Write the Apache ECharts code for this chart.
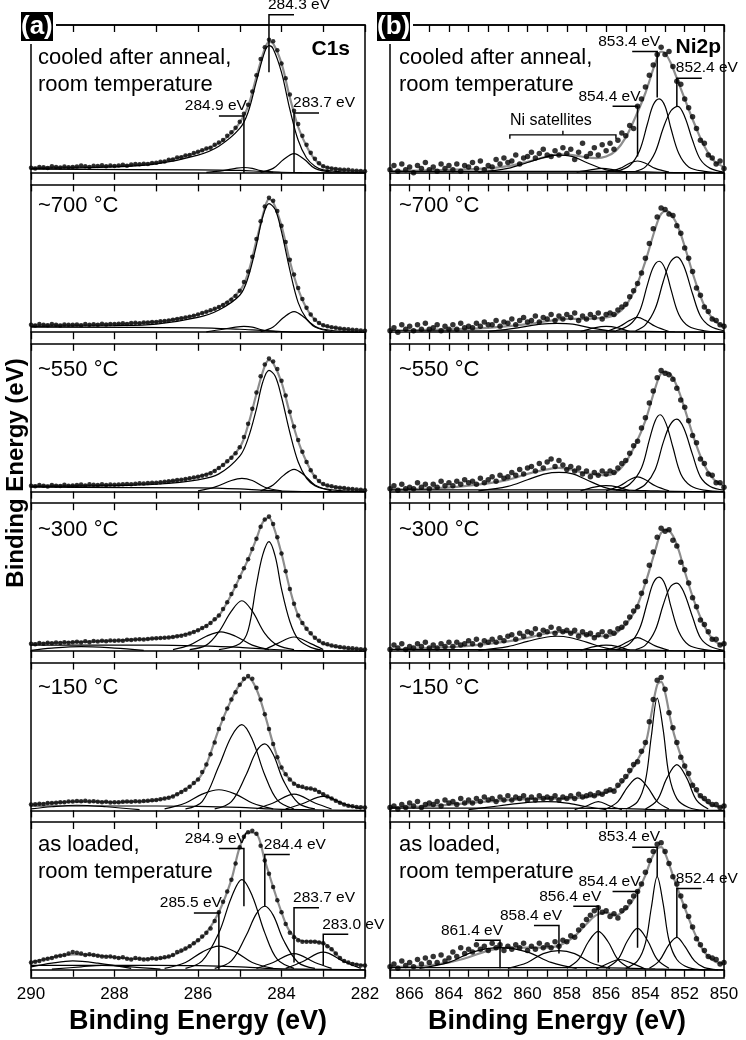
<!DOCTYPE html>
<html><head><meta charset="utf-8">
<script src="https://cdn.jsdelivr.net/npm/echarts@6/dist/echarts.min.js"></script>
<style>html,body{margin:0;padding:0;background:#fff}#c{width:746px;height:1040px}</style>
</head><body><div id="c"></div>
<script>
// ================= DATA =================
const PANEL_LABELS = ['cooled after anneal,\nroom temperature','~700 °C','~550 °C','~300 °C','~150 °C','as loaded,\nroom temperature'];
const C1S_TICKS = [282, 290];          // axis range (eV), reversed
const NI_TICKS = [850, 867];
const C1S_START = 290, C1S_STEP = 0.1; // measured energy grid
const NI_START = 867, NI_STEP = 0.2;

// ---- C1s measured points (290 -> 282 eV) ----
const c1sPts1 = [0.035,0.03,0.04,0.038,0.032,0.045,0.04,0.036,0.042,0.038,0.04,
 0.042,0.05,0.044,0.04,0.048,0.046,0.052,0.044,0.05,0.047,
 0.05,0.055,0.048,0.056,0.06,0.058,0.062,0.06,0.066,0.068,
 0.075,0.076,0.088,0.09,0.104,0.105,0.118,0.12,0.134,0.142,
 0.152,0.165,0.17,0.19,0.205,0.222,0.25,0.275,0.305,0.345,
 0.4,0.46,0.55,0.66,0.77,0.85,0.9,0.89,0.83,0.74,
 0.64,0.53,0.42,0.33,0.25,0.19,0.135,0.095,0.065,0.045,
 0.035,0.03,0.026,0.022,0.02,0.02,0.016,0.014,0.012,0.01];
const c1sPts2 = [0.05,0.045,0.055,0.05,0.048,0.056,0.05,0.046,0.053,0.05,0.05,
 0.052,0.048,0.056,0.05,0.054,0.05,0.058,0.052,0.055,0.056,
 0.058,0.06,0.056,0.062,0.064,0.06,0.066,0.065,0.07,0.07,
 0.074,0.076,0.08,0.084,0.09,0.094,0.1,0.104,0.112,0.12,
 0.13,0.138,0.148,0.158,0.17,0.185,0.2,0.22,0.245,0.28,
 0.34,0.41,0.51,0.63,0.75,0.85,0.91,0.89,0.82,0.72,
 0.61,0.49,0.39,0.3,0.225,0.165,0.12,0.085,0.062,0.047,
 0.04,0.034,0.03,0.026,0.022,0.02,0.017,0.015,0.012,0.01];
const c1sPts3 = [0.04,0.036,0.044,0.04,0.035,0.045,0.04,0.038,0.046,0.04,0.042,
 0.044,0.048,0.042,0.05,0.046,0.044,0.05,0.045,0.048,0.046,
 0.048,0.05,0.052,0.05,0.054,0.056,0.055,0.058,0.06,0.06,
 0.064,0.066,0.07,0.073,0.078,0.08,0.085,0.09,0.095,0.1,
 0.108,0.115,0.125,0.14,0.16,0.18,0.205,0.23,0.26,0.3,
 0.37,0.46,0.56,0.67,0.78,0.86,0.9,0.88,0.83,0.75,
 0.65,0.54,0.44,0.35,0.27,0.2,0.145,0.1,0.072,0.052,
 0.042,0.036,0.03,0.027,0.024,0.02,0.018,0.015,0.012,0.01];
const c1sPts4 = [0.05,0.046,0.054,0.05,0.056,0.052,0.058,0.055,0.06,0.056,0.06,
 0.062,0.058,0.066,0.06,0.068,0.064,0.07,0.066,0.072,0.07,
 0.072,0.07,0.076,0.074,0.078,0.08,0.078,0.082,0.085,0.086,
 0.088,0.09,0.092,0.095,0.1,0.104,0.11,0.118,0.128,0.14,
 0.155,0.17,0.19,0.215,0.24,0.285,0.33,0.385,0.44,0.5,
 0.56,0.62,0.69,0.76,0.84,0.89,0.91,0.86,0.77,0.66,
 0.54,0.42,0.32,0.24,0.19,0.15,0.12,0.09,0.07,0.052,
 0.045,0.038,0.032,0.028,0.024,0.02,0.018,0.015,0.012,0.01];
const c1sPts5 = [0.04,0.042,0.045,0.044,0.05,0.05,0.052,0.056,0.055,0.06,0.06,
 0.064,0.062,0.066,0.06,0.062,0.058,0.056,0.058,0.054,0.055,
 0.056,0.058,0.06,0.058,0.062,0.06,0.064,0.066,0.068,0.07,
 0.075,0.08,0.086,0.095,0.11,0.125,0.14,0.16,0.185,0.21,
 0.26,0.31,0.38,0.46,0.55,0.62,0.69,0.75,0.8,0.85,
 0.89,0.91,0.89,0.83,0.75,0.65,0.55,0.45,0.36,0.29,
 0.245,0.21,0.18,0.165,0.16,0.15,0.148,0.14,0.125,0.11,
 0.095,0.08,0.065,0.052,0.04,0.032,0.028,0.024,0.022,0.02];
const c1sPts6 = [0.05,0.055,0.06,0.07,0.075,0.08,0.09,0.095,0.1,0.11,0.12,
 0.115,0.11,0.1,0.105,0.1,0.095,0.09,0.088,0.09,0.085,
 0.08,0.085,0.075,0.07,0.08,0.075,0.07,0.072,0.078,0.075,
 0.08,0.085,0.09,0.1,0.12,0.13,0.145,0.16,0.18,0.2,
 0.225,0.25,0.28,0.33,0.39,0.46,0.53,0.61,0.72,0.83,
 0.9,0.93,0.94,0.92,0.84,0.74,0.65,0.56,0.47,0.39,
 0.31,0.25,0.22,0.2,0.19,0.19,0.19,0.19,0.185,0.18,
 0.16,0.14,0.11,0.08,0.06,0.05,0.04,0.035,0.03,0.03];

// ---- C1s fit envelopes [eV, intensity] ----
const c1sEnv1 = [[290,0.035],[289,0.04],[288,0.047],[287,0.068],[286.5,0.1],[286,0.14],[285.5,0.2],[285.2,0.27],[285,0.34],[284.8,0.45],[284.6,0.65],[284.4,0.84],[284.3,0.885],[284.2,0.875],[284,0.74],[283.8,0.51],[283.6,0.31],[283.4,0.18],[283.2,0.09],[283,0.045],[282.5,0.018],[282,0.01]];
const c1sEnv2 = [[290,0.05],[289,0.05],[288,0.055],[287,0.07],[286.5,0.09],[286,0.12],[285.5,0.17],[285,0.28],[284.8,0.4],[284.6,0.62],[284.4,0.84],[284.3,0.9],[284.2,0.88],[284,0.72],[283.8,0.48],[283.6,0.29],[283.4,0.16],[283.2,0.085],[283,0.047],[282.5,0.02],[282,0.01]];
const c1sEnv3 = [[290,0.04],[288,0.045],[287,0.06],[286,0.1],[285.5,0.16],[285,0.3],[284.8,0.45],[284.6,0.66],[284.4,0.85],[284.3,0.89],[284.2,0.87],[284,0.74],[283.8,0.53],[283.6,0.34],[283.4,0.2],[283.2,0.1],[283,0.05],[282.5,0.022],[282,0.01]];
const c1sEnv4 = [[290,0.05],[289,0.06],[288,0.07],[287,0.085],[286.5,0.1],[286,0.14],[285.7,0.19],[285.5,0.24],[285.3,0.33],[285.1,0.44],[285,0.5],[284.8,0.62],[284.6,0.76],[284.5,0.84],[284.4,0.89],[284.3,0.9],[284.2,0.85],[284,0.66],[283.8,0.42],[283.6,0.24],[283.4,0.15],[283.2,0.09],[283,0.05],[282.5,0.02],[282,0.01]];
const c1sEnv5 = [[290,0.04],[289.5,0.05],[289,0.06],[288.5,0.06],[288,0.055],[287.5,0.06],[287,0.07],[286.5,0.11],[286,0.21],[285.8,0.31],[285.5,0.55],[285.2,0.75],[285,0.85],[284.8,0.9],[284.6,0.82],[284.4,0.65],[284.2,0.45],[284,0.29],[283.8,0.21],[283.6,0.165],[283.4,0.15],[283.2,0.14],[283,0.11],[282.8,0.08],[282.6,0.05],[282.4,0.03],[282,0.02]];
const c1sEnv6 = [[290,0.05],[289.7,0.07],[289.4,0.09],[289,0.105],[288.5,0.1],[288,0.085],[287.5,0.075],[287,0.075],[286.5,0.11],[286,0.2],[285.8,0.25],[285.5,0.39],[285.2,0.61],[285,0.83],[284.8,0.93],[284.6,0.92],[284.4,0.74],[284.2,0.56],[284,0.39],[283.8,0.26],[283.5,0.195],[283.2,0.19],[283,0.18],[282.8,0.14],[282.6,0.08],[282.4,0.05],[282,0.03]];

// ---- C1s fit components (background + peaks) ----
const c1sComp1 = [
 [[290,0.025],[286,0.02],[285,0.016],[284.5,0.01],[284,0.004],[283.5,0.001],[282,0]],
 [[290,0.03],[288,0.04],[287,0.06],[286,0.12],[285.5,0.18],[285,0.3],[284.8,0.41],[284.6,0.62],[284.4,0.82],[284.3,0.86],[284.2,0.84],[284,0.68],[283.8,0.43],[283.6,0.22],[283.4,0.1],[283.2,0.045],[283,0.02],[282.5,0.005],[282,0]],
 [[285.8,0.003],[285.4,0.015],[285.1,0.03],[284.9,0.036],[284.7,0.03],[284.5,0.015],[284.2,0.003]],
 [[284.5,0.003],[284.2,0.03],[283.95,0.09],[283.7,0.13],[283.45,0.09],[283.2,0.03],[282.8,0.005]]];
const c1sComp2 = [
 [[290,0.035],[286,0.03],[285,0.02],[284.5,0.012],[284,0.005],[283.5,0.001],[282,0]],
 [[290,0.04],[288,0.045],[287,0.055],[286,0.1],[285.5,0.15],[285,0.25],[284.8,0.37],[284.6,0.59],[284.45,0.78],[284.3,0.87],[284.15,0.83],[284,0.68],[283.8,0.42],[283.6,0.2],[283.4,0.09],[283.2,0.04],[283,0.02],[282.5,0.005],[282,0]],
 [[285.8,0.003],[285.4,0.02],[285.1,0.035],[284.9,0.04],[284.7,0.035],[284.45,0.015],[284.1,0.003]],
 [[284.5,0.003],[284.2,0.035],[283.95,0.1],[283.7,0.14],[283.45,0.1],[283.2,0.035],[282.8,0.005]]];
const c1sComp3 = [
 [[290,0.03],[286,0.025],[285,0.018],[284.5,0.01],[284,0.004],[283.5,0.001],[282,0]],
 [[290,0.035],[288,0.04],[287,0.05],[286,0.08],[285.5,0.12],[285,0.24],[284.8,0.36],[284.6,0.56],[284.45,0.74],[284.3,0.82],[284.15,0.78],[284,0.64],[283.8,0.4],[283.6,0.2],[283.4,0.09],[283.2,0.04],[283,0.02],[282.5,0.005],[282,0]],
 [[286,0.005],[285.6,0.03],[285.2,0.075],[284.95,0.09],[284.7,0.075],[284.4,0.03],[284,0.005]],
 [[284.5,0.005],[284.2,0.045],[283.95,0.11],[283.7,0.15],[283.45,0.11],[283.2,0.045],[282.8,0.005]]];
const c1sComp4 = [
 [[290,0.04],[287,0.04],[286,0.035],[285,0.025],[284.3,0.012],[283.5,0.003],[282,0]],
 [[290,0.005],[289.5,0.02],[288.8,0.03],[288,0.02],[287.3,0.005]],
 [[285.5,0.01],[285,0.05],[284.8,0.14],[284.6,0.45],[284.45,0.65],[284.3,0.74],[284.15,0.64],[284,0.42],[283.8,0.2],[283.6,0.08],[283.3,0.025],[283,0.005]],
 [[286.2,0.01],[285.8,0.04],[285.5,0.13],[285.2,0.27],[284.95,0.34],[284.7,0.27],[284.4,0.12],[284.1,0.04],[283.7,0.01]],
 [[286.6,0.01],[286.2,0.04],[285.8,0.1],[285.45,0.13],[285.1,0.1],[284.7,0.04],[284.3,0.01]],
 [[284.4,0.01],[284.1,0.05],[283.7,0.095],[283.3,0.05],[283,0.01]]];
const c1sComp5 = [
 [[290,0.03],[287,0.03],[286,0.028],[285,0.02],[284.3,0.01],[283.5,0.005],[282,0]],
 [[290,0.01],[289.5,0.025],[288.9,0.035],[288.2,0.025],[287.4,0.005]],
 [[286.3,0.01],[285.9,0.06],[285.5,0.3],[285.2,0.5],[284.95,0.58],[284.7,0.48],[284.4,0.24],[284.1,0.07],[283.7,0.01]],
 [[285.6,0.01],[285.2,0.06],[284.85,0.24],[284.6,0.4],[284.4,0.45],[284.2,0.38],[283.95,0.2],[283.6,0.05],[283.2,0.01]],
 [[286.8,0.01],[286.3,0.05],[285.9,0.11],[285.5,0.14],[285.1,0.11],[284.7,0.05],[284.2,0.01]],
 [[284.6,0.01],[284.2,0.05],[283.7,0.11],[283.2,0.05],[282.8,0.01]],
 [[283.9,0.01],[283.5,0.045],[283,0.095],[282.5,0.045],[282.1,0.01]]];
const c1sComp6 = [
 [[290,0.03],[287,0.03],[286,0.028],[285,0.02],[284.3,0.01],[283.5,0.005],[282,0]],
 [[290,0.02],[289.5,0.045],[289,0.06],[288.4,0.045],[287.6,0.01]],
 [[289.5,0.005],[288.8,0.02],[288.3,0.03],[287.6,0.02],[286.9,0.005]],
 [[286.3,0.01],[285.9,0.06],[285.5,0.25],[285.2,0.49],[284.95,0.61],[284.7,0.5],[284.4,0.25],[284.1,0.07],[283.7,0.01]],
 [[285.6,0.01],[285.2,0.06],[284.85,0.23],[284.6,0.38],[284.4,0.43],[284.2,0.37],[283.95,0.2],[283.6,0.05],[283.2,0.01]],
 [[286.8,0.01],[286.3,0.05],[285.9,0.12],[285.5,0.16],[285.1,0.12],[284.7,0.05],[284.2,0.01]],
 [[284.6,0.01],[284.2,0.05],[283.7,0.11],[283.2,0.05],[282.8,0.01]],
 [[283.9,0.01],[283.5,0.055],[283,0.12],[282.5,0.055],[282.1,0.01]]];

// ---- C1s peak markers [eV, top, bottom, side(+1 right/-1 left), text] ----
const c1sAnn1 = [[284.3,1.07,0.68,1,'284.3 eV'],[284.9,0.385,0,-1,'284.9 eV'],[283.7,0.405,0,1,'283.7 eV']];
const c1sAnn6 = [[284.9,0.82,0.43,-1,'284.9 eV'],[284.4,0.78,0.43,1,'284.4 eV'],[285.5,0.385,0,-1,'285.5 eV'],[283.7,0.42,0.05,1,'283.7 eV'],[283.0,0.24,0.03,1,'283.0 eV']];

// ---- Ni2p measured points (867 -> 850 eV) ----
const niPts1 = [0.02,
 0.05,0.01,0.06,0.02,0.04, 0.0,0.05,0.03,0.07,0.02, 0.04,0.01,0.06,0.03,0.05, 0.02,0.06,0.01,0.05,0.04,
 0.07,0.03,0.08,0.02,0.05, 0.04,0.09,0.06,0.1,0.07, 0.08,0.12,0.06,0.1,0.11, 0.14,0.1,0.13,0.16,0.12,
 0.11,0.15,0.12,0.17,0.13, 0.16,0.09,0.14,0.2,0.11, 0.13,0.17,0.12,0.19,0.15, 0.2,0.16,0.22,0.27,0.25,
 0.32,0.3,0.45,0.5,0.58, 0.66,0.73,0.8,0.85,0.8, 0.82,0.72,0.62,0.6,0.5, 0.44,0.38,0.3,0.22,0.2,
 0.12,0.1,0.06,0.08,0.03];
const niPts2 = [0.01,
 0.03,0.0,0.05,0.02,0.04, 0.01,0.05,0.02,0.06,0.02, 0.03,0.05,0.01,0.04,0.02, 0.05,0.02,0.06,0.03,0.04,
 0.03,0.06,0.04,0.07,0.05, 0.05,0.08,0.04,0.07,0.06, 0.09,0.05,0.08,0.1,0.07, 0.08,0.11,0.07,0.1,0.09,
 0.12,0.08,0.11,0.09,0.12, 0.1,0.13,0.08,0.11,0.09, 0.12,0.1,0.13,0.09,0.12, 0.13,0.12,0.15,0.17,0.19,
 0.24,0.28,0.33,0.4,0.5, 0.6,0.7,0.78,0.84,0.83, 0.8,0.79,0.72,0.67,0.57, 0.5,0.41,0.3,0.25,0.17,
 0.14,0.09,0.08,0.05,0.04];
const niPts3 = [0.02,
 0.04,0.01,0.05,0.02,0.03, 0.02,0.06,0.03,0.05,0.02, 0.05,0.03,0.07,0.04,0.06, 0.04,0.07,0.05,0.08,0.06,
 0.07,0.05,0.09,0.06,0.08, 0.1,0.07,0.11,0.09,0.1, 0.13,0.11,0.15,0.12,0.16, 0.17,0.14,0.19,0.16,0.2,
 0.22,0.17,0.21,0.18,0.15, 0.17,0.14,0.16,0.12,0.14, 0.1,0.13,0.11,0.14,0.12, 0.14,0.13,0.16,0.19,0.21,
 0.26,0.31,0.34,0.43,0.5, 0.6,0.68,0.77,0.82,0.8, 0.79,0.76,0.7,0.62,0.57, 0.48,0.38,0.33,0.22,0.19,
 0.12,0.11,0.06,0.06,0.03];
const niPts4 = [0.01,
 0.04,0.02,0.05,0.01,0.03, 0.02,0.05,0.03,0.06,0.02, 0.04,0.02,0.05,0.03,0.06, 0.03,0.06,0.04,0.05,0.07,
 0.05,0.08,0.04,0.07,0.06, 0.08,0.06,0.09,0.07,0.1, 0.11,0.08,0.12,0.1,0.13, 0.12,0.15,0.11,0.14,0.13,
 0.16,0.12,0.15,0.13,0.14, 0.12,0.14,0.1,0.13,0.11, 0.12,0.09,0.11,0.13,0.1, 0.13,0.12,0.15,0.16,0.19,
 0.23,0.27,0.3,0.39,0.47, 0.58,0.67,0.77,0.83,0.81, 0.82,0.75,0.71,0.6,0.55, 0.46,0.36,0.3,0.21,0.18,
 0.13,0.08,0.08,0.04,0.05];
const niPts5 = [0.02,
 0.03,0.01,0.04,0.02,0.05, 0.03,0.06,0.02,0.04,0.05, 0.04,0.06,0.03,0.07,0.05, 0.06,0.04,0.08,0.05,0.07,
 0.05,0.08,0.06,0.09,0.07, 0.08,0.06,0.09,0.07,0.1, 0.07,0.09,0.08,0.1,0.07, 0.09,0.07,0.1,0.08,0.09,
 0.08,0.1,0.07,0.09,0.08, 0.1,0.08,0.11,0.09,0.1, 0.11,0.1,0.12,0.11,0.13, 0.14,0.13,0.17,0.2,0.23,
 0.27,0.31,0.33,0.4,0.46, 0.6,0.75,0.88,0.9,0.82, 0.66,0.56,0.46,0.36,0.3, 0.25,0.17,0.14,0.1,0.08,
 0.06,0.04,0.04,0.02,0.03];
const niPts6 = [0.02,
 0.04,0.01,0.06,0.03,0.05, 0.02,0.07,0.04,0.08,0.05, 0.09,0.05,0.1,0.06,0.08, 0.12,0.09,0.15,0.11,0.14,
 0.12,0.17,0.14,0.16,0.13, 0.18,0.15,0.17,0.13,0.16, 0.14,0.17,0.15,0.18,0.13, 0.16,0.14,0.18,0.15,0.17,
 0.15,0.19,0.16,0.2,0.19, 0.23,0.22,0.27,0.3,0.34, 0.37,0.4,0.42,0.39,0.4, 0.36,0.38,0.35,0.4,0.42,
 0.46,0.5,0.53,0.58,0.66, 0.74,0.8,0.85,0.86,0.8, 0.72,0.63,0.58,0.5,0.43, 0.36,0.29,0.21,0.17,0.13,
 0.09,0.08,0.07,0.04,0.05];

// ---- Ni2p fit envelopes ----
const niEnv1 = [[867,0.01],[866,0.015],[864,0.02],[862,0.03],[861,0.045],[860,0.075],[859,0.11],[858.4,0.125],[857.7,0.12],[857,0.105],[856.5,0.1],[856,0.11],[855.5,0.15],[855,0.24],[854.5,0.38],[854,0.54],[853.5,0.74],[853.2,0.82],[853,0.81],[852.7,0.74],[852.4,0.64],[852,0.5],[851.5,0.33],[851,0.18],[850.5,0.08],[850,0.04]];
const niEnv2 = [[867,0.01],[864,0.02],[862,0.03],[860,0.055],[859,0.075],[858,0.09],[857,0.09],[856,0.1],[855.5,0.12],[855,0.18],[854.5,0.3],[854,0.48],[853.5,0.7],[853.2,0.8],[852.9,0.82],[852.6,0.78],[852.3,0.7],[852,0.58],[851.5,0.36],[851,0.18],[850.5,0.08],[850,0.04]];
const niEnv3 = [[867,0.015],[865,0.02],[863,0.04],[861,0.08],[860,0.12],[859,0.15],[858.4,0.16],[858,0.155],[857,0.125],[856,0.11],[855.5,0.13],[855,0.2],[854.5,0.32],[854,0.48],[853.5,0.7],[853.2,0.8],[852.9,0.81],[852.6,0.77],[852.3,0.68],[852,0.56],[851.5,0.35],[851,0.18],[850.5,0.08],[850,0.04]];
const niEnv4 = [[867,0.01],[865,0.02],[863,0.035],[861,0.065],[860,0.09],[859,0.12],[858.4,0.13],[857.5,0.12],[856.5,0.1],[856,0.1],[855.5,0.12],[855,0.18],[854.5,0.28],[854,0.46],[853.5,0.68],[853.2,0.8],[852.9,0.82],[852.6,0.78],[852.3,0.68],[852,0.54],[851.5,0.33],[851,0.17],[850.5,0.07],[850,0.04]];
const niEnv5 = [[867,0.02],[865,0.03],[863,0.05],[861,0.07],[859,0.08],[858,0.08],[857,0.09],[856.5,0.1],[856,0.12],[855.5,0.15],[855,0.22],[854.5,0.32],[854,0.45],[853.7,0.65],[853.4,0.85],[853.2,0.87],[853,0.8],[852.7,0.6],[852.4,0.45],[852,0.3],[851.5,0.15],[851,0.07],[850.5,0.03],[850,0.02]];
const niEnv6 = [[867,0.02],[866,0.02],[865,0.03],[864,0.05],[863,0.085],[862,0.13],[861,0.15],[860,0.15],[859,0.15],[858.5,0.16],[858,0.19],[857.5,0.24],[857,0.31],[856.5,0.37],[856,0.385],[855.5,0.37],[855,0.41],[854.5,0.5],[854,0.64],[853.7,0.75],[853.4,0.82],[853.2,0.83],[853,0.79],[852.5,0.6],[852,0.42],[851.5,0.25],[851,0.12],[850.5,0.06],[850,0.04]];

// ---- Ni2p fit components ----
const niComp1 = [
 [[867,0.01],[856,0.01],[854,0.006],[852.5,0.002],[850,0]],
 [[855.5,0.01],[854.8,0.05],[854.3,0.15],[853.9,0.33],[853.6,0.46],[853.3,0.5],[853,0.45],[852.7,0.3],[852.3,0.13],[851.8,0.04],[851,0.01],[850,0]],
 [[854.5,0.01],[854,0.04],[853.5,0.14],[853.1,0.3],[852.7,0.42],[852.35,0.45],[852,0.38],[851.6,0.22],[851.2,0.09],[850.7,0.03],[850,0.005]],
 [[856,0.005],[855.3,0.03],[854.8,0.065],[854.4,0.08],[854,0.065],[853.5,0.03],[852.8,0.005]],
 [[862.5,0.005],[861,0.03],[860,0.07],[859,0.11],[858.4,0.12],[857.7,0.11],[857,0.07],[856,0.02],[855,0.005]],
 [[857.5,0.005],[856.8,0.02],[856.2,0.03],[855.6,0.02],[855,0.005]]];
const niComp2 = [
 [[867,0.01],[856,0.01],[854,0.006],[852.5,0.002],[850,0]],
 [[855.5,0.01],[854.8,0.05],[854.3,0.14],[853.9,0.32],[853.6,0.44],[853.3,0.48],[853,0.43],[852.7,0.29],[852.3,0.12],[851.8,0.04],[851,0.01],[850,0]],
 [[854.5,0.01],[854,0.05],[853.5,0.16],[853.1,0.34],[852.75,0.47],[852.4,0.51],[852.05,0.45],[851.6,0.26],[851.2,0.11],[850.7,0.04],[850,0.01]],
 [[856,0.005],[855.3,0.04],[854.8,0.08],[854.4,0.1],[854,0.08],[853.5,0.04],[852.8,0.005]],
 [[862,0.005],[860.5,0.03],[859.3,0.055],[858.5,0.06],[857.7,0.055],[856.8,0.03],[855.5,0.005]],
 [[857.3,0.005],[856.6,0.03],[856,0.04],[855.4,0.03],[854.8,0.005]]];
const niComp3 = [
 [[867,0.012],[856,0.012],[854,0.007],[852.5,0.002],[850,0]],
 [[855.5,0.01],[854.8,0.05],[854.2,0.16],[853.8,0.35],[853.5,0.48],[853.25,0.52],[852.95,0.46],[852.6,0.3],[852.2,0.12],[851.7,0.04],[851,0.01],[850,0]],
 [[854.5,0.01],[854,0.05],[853.5,0.15],[853.1,0.33],[852.75,0.45],[852.4,0.49],[852.05,0.43],[851.6,0.25],[851.2,0.1],[850.7,0.035],[850,0.01]],
 [[856,0.005],[855.3,0.04],[854.8,0.08],[854.4,0.1],[854,0.08],[853.5,0.04],[852.8,0.005]],
 [[862.5,0.005],[861,0.035],[860,0.08],[859.1,0.12],[858.4,0.13],[857.7,0.12],[857,0.08],[856,0.025],[855,0.005]],
 [[857.3,0.005],[856.6,0.03],[856,0.04],[855.4,0.03],[854.8,0.005]]];
const niComp4 = [
 [[867,0.01],[856,0.01],[854,0.006],[852.5,0.002],[850,0]],
 [[855.5,0.01],[854.8,0.05],[854.3,0.15],[853.9,0.33],[853.6,0.46],[853.3,0.5],[853,0.45],[852.7,0.3],[852.3,0.13],[851.8,0.04],[851,0.01],[850,0]],
 [[854.5,0.01],[854,0.04],[853.5,0.14],[853.1,0.31],[852.75,0.43],[852.4,0.46],[852.05,0.4],[851.6,0.23],[851.2,0.09],[850.7,0.03],[850,0.005]],
 [[856,0.005],[855.3,0.035],[854.8,0.07],[854.4,0.09],[854,0.07],[853.5,0.035],[852.8,0.005]],
 [[862.5,0.005],[861,0.03],[860,0.065],[859.2,0.09],[858.5,0.1],[857.8,0.09],[857,0.06],[856,0.02],[855,0.005]],
 [[857.3,0.005],[856.6,0.03],[856,0.04],[855.4,0.03],[854.8,0.005]]];
const niComp5 = [
 [[867,0.015],[858,0.015],[855,0.012],[853.5,0.006],[852,0.002],[850,0]],
 [[855,0.01],[854.4,0.06],[854,0.2],[853.7,0.5],[853.4,0.76],[853.1,0.55],[852.8,0.24],[852.4,0.08],[851.8,0.02],[851,0]],
 [[854,0.01],[853.4,0.07],[852.9,0.22],[852.4,0.31],[851.9,0.22],[851.4,0.07],[850.8,0.01]],
 [[856,0.01],[855.4,0.06],[854.9,0.16],[854.4,0.22],[853.9,0.16],[853.4,0.06],[852.8,0.01]],
 [[857.6,0.005],[857,0.03],[856.4,0.06],[855.8,0.03],[855.2,0.005]],
 [[863,0.005],[861.5,0.03],[860,0.055],[859,0.06],[858,0.05],[857,0.025],[856,0.005]]];
const niComp6 = [
 [[867,0.015],[858,0.015],[855,0.012],[853.5,0.006],[852,0.002],[850,0]],
 [[855,0.01],[854.4,0.06],[854,0.18],[853.7,0.42],[853.4,0.63],[853.1,0.45],[852.8,0.2],[852.4,0.07],[851.8,0.015],[851,0]],
 [[853.8,0.01],[853.3,0.06],[852.8,0.17],[852.4,0.22],[852,0.16],[851.5,0.06],[851,0.015],[850.3,0]],
 [[856,0.01],[855.4,0.07],[854.9,0.2],[854.4,0.28],[853.9,0.2],[853.4,0.07],[852.8,0.01]],
 [[858,0.01],[857.4,0.07],[856.9,0.19],[856.4,0.26],[855.9,0.19],[855.4,0.07],[854.8,0.01]],
 [[856.5,0.005],[855.8,0.05],[855.3,0.07],[854.8,0.05],[854,0.005]],
 [[861,0.01],[860,0.05],[859.2,0.11],[858.4,0.13],[857.6,0.11],[856.8,0.05],[855.8,0.01]],
 [[865.5,0.01],[864,0.05],[862.8,0.12],[861.4,0.15],[860,0.12],[858.8,0.05],[857.5,0.01]]];

// ---- Ni2p peak markers ----
const niAnn1 = [[853.4,0.82,0.51,-1,'853.4 eV'],[852.4,0.64,0.45,1,'852.4 eV'],[854.4,0.45,0.11,-1,'854.4 eV']];
const niAnn6 = [[853.4,0.83,0.63,-1,'853.4 eV'],[852.4,0.55,0.22,1,'852.4 eV'],[854.4,0.53,0.15,-1,'854.4 eV'],[856.4,0.43,0.05,-1,'856.4 eV'],[858.4,0.3,0.11,-1,'858.4 eV'],[861.4,0.2,0.01,-1,'861.4 eV']];
const niBracket = [860.9, 855.5, 0.257, 'Ni satellites'];

// ================= LAYOUT / BUILD =================
const FONT = '"Liberation Sans", Arial, Helvetica, sans-serif';
const PANEL_TOP = [25, 184.4, 343.8, 503.2, 662.6, 822];
const PANEL_H = 153;
const LABEL_TOP = [44, 192, 356, 516, 674, 831];
const COLS = [
  {left:31, width:334, range:C1S_TICKS, start:C1S_START, step:C1S_STEP, dot:4.5,
   panels:[
    {pts:c1sPts1, env:c1sEnv1, comps:c1sComp1, ann:c1sAnn1},
    {pts:c1sPts2, env:c1sEnv2, comps:c1sComp2},
    {pts:c1sPts3, env:c1sEnv3, comps:c1sComp3},
    {pts:c1sPts4, env:c1sEnv4, comps:c1sComp4},
    {pts:c1sPts5, env:c1sEnv5, comps:c1sComp5},
    {pts:c1sPts6, env:c1sEnv6, comps:c1sComp6, ann:c1sAnn6}]},
  {left:390, width:334, range:NI_TICKS, start:NI_START, step:NI_STEP, dot:5.5,
   panels:[
    {pts:niPts1, env:niEnv1, comps:niComp1, ann:niAnn1, bracket:niBracket},
    {pts:niPts2, env:niEnv2, comps:niComp2},
    {pts:niPts3, env:niEnv3, comps:niComp3},
    {pts:niPts4, env:niEnv4, comps:niComp4},
    {pts:niPts5, env:niEnv5, comps:niComp5},
    {pts:niPts6, env:niEnv6, comps:niComp6, ann:niAnn6}]}
];

const grids = [], xAxes = [], yAxes = [], series = [], titles = [];
const evenFmt = v => (Math.round(v) % 2 === 0 ? String(v) : '');

COLS.forEach((c, ci) => {
  grids.push({left:c.left, top:25, width:c.width, height:957, show:true, borderColor:'#000', borderWidth:1.5, backgroundColor:'transparent'});
  xAxes.push({gridIndex:ci, type:'value', min:c.range[0], max:c.range[1], inverse:true, interval:1, position:'bottom',
    axisLine:{show:false}, axisTick:{show:false}, splitLine:{show:false},
    axisLabel:{show:true, margin:8, fontSize:17, color:'#000', fontFamily:FONT, formatter:evenFmt},
    name:'Binding Energy (eV)', nameLocation:'middle', nameGap:21,
    nameTextStyle:{fontSize:27, fontWeight:'bold', color:'#000', fontFamily:FONT}});
  yAxes.push({gridIndex:ci, type:'value', show:false, min:0, max:1});
});

function annSeries(xi, yi, ann) {
  return {type:'custom', xAxisIndex:xi, yAxisIndex:yi, clip:false, silent:true, z:6,
    data: ann.map(a => [a[0], a[1], a[2], a[3]]),
    encode:{x:0, y:[1,2]},
    renderItem:(params, api) => {
      const a = ann[params.dataIndex];
      const pt = api.coord([a[0], a[1]]), pb = api.coord([a[0], a[2]]);
      const hx = pt[0] + a[3] * 25;
      return {type:'group', children:[
        {type:'polyline', shape:{points:[[hx, pt[1]], [pt[0], pt[1]], [pb[0], pb[1]]]}, style:{stroke:'#000', lineWidth:1.5, fill:null}},
        {type:'text', x: a[3] > 0 ? pt[0] - 1 : pt[0] + 3, y: pt[1] - 2,
         style:{text:a[4], align: a[3] > 0 ? 'left' : 'right', verticalAlign:'bottom', font:'15.5px ' + FONT, fill:'#000'}}
      ]};
    }};
}
function bracketSeries(xi, yi, b) {
  return {type:'custom', xAxisIndex:xi, yAxisIndex:yi, clip:false, silent:true, z:6,
    data:[[b[0], b[2]]], encode:{x:0, y:1},
    renderItem:(params, api) => {
      const p1 = api.coord([b[0], b[2]]), p2 = api.coord([b[1], b[2]]);
      const xc = (p1[0] + p2[0]) / 2, y = p1[1];
      return {type:'group', children:[
        {type:'polyline', shape:{points:[[p1[0], y + 4], [p1[0], y], [p2[0], y], [p2[0], y + 4]]}, style:{stroke:'#000', lineWidth:1.4, fill:null}},
        {type:'line', shape:{x1:xc, y1:y, x2:xc, y2:y - 4}, style:{stroke:'#000', lineWidth:1.4}},
        {type:'text', x:xc - 12, y:y - 6, style:{text:b[3], align:'center', verticalAlign:'bottom', font:'16px ' + FONT, fill:'#000'}}
      ]};
    }};
}

let gi = 2;
COLS.forEach((c, ci) => {
  c.panels.forEach((p, pi) => {
    grids.push({left:c.left, top:PANEL_TOP[pi], width:c.width, height:PANEL_H, show:false});
    const xb = xAxes.length;
    const base = {gridIndex:gi, type:'value', min:c.range[0], max:c.range[1], inverse:true, interval:1,
      axisLabel:{show:false}, splitLine:{show:false}, axisLine:{show:true, lineStyle:{color:'#000', width:1.5}}};
    xAxes.push(Object.assign({}, base, {position:'bottom', axisTick:{show:true, inside:false, length:7, lineStyle:{color:'#000', width:1.3}}}));
    xAxes.push(Object.assign({}, base, {position:'top', axisTick:{show:true, inside:true, length:7, lineStyle:{color:'#000', width:1.3}}}));
    const yi = yAxes.length;
    yAxes.push({gridIndex:gi, type:'value', min:-0.035, max:1, show:false});
    series.push({type:'line', xAxisIndex:xb, yAxisIndex:yi, silent:true, z:3, data:p.env, symbol:'none',
      smooth:0.35, lineStyle:{color:'#8d8d8d', width:2.2}});
    p.comps.forEach(cp => series.push({type:'line', xAxisIndex:xb, yAxisIndex:yi, silent:true, z:4, data:cp, symbol:'none',
      smooth:0.35, lineStyle:{color:'#000', width:1.2}}));
    series.push({type:'scatter', xAxisIndex:xb, yAxisIndex:yi, silent:true, z:5, symbolSize:c.dot,
      itemStyle:{color:'#000'},
      data: p.pts.map((v, i) => [+(c.start - i * c.step).toFixed(2), v])});
    if (p.ann) series.push(annSeries(xb, yi, p.ann));
    if (p.bracket) series.push(bracketSeries(xb, yi, p.bracket));
    titles.push({text:PANEL_LABELS[pi], left: ci === 0 ? 38 : 399, top:LABEL_TOP[pi], padding:0,
      textStyle:{fontSize:22, fontWeight:'normal', color:'#000', fontFamily:FONT, lineHeight:27}});
    gi++;
  });
});

titles.push({text:'C1s', right:396, top:36, padding:0, textStyle:{fontSize:21, fontWeight:'bold', color:'#000', fontFamily:FONT, lineHeight:27}});
titles.push({text:'Ni2p', right:25, top:34, padding:0, textStyle:{fontSize:21, fontWeight:'bold', color:'#000', fontFamily:FONT, lineHeight:27}});
titles.push({text:'(a)', left:19, top:10, padding:[1,2,1,2], backgroundColor:'#000', borderColor:'#fff', borderWidth:3,
  textStyle:{fontSize:26, fontWeight:'bold', color:'#fff', fontFamily:FONT, lineHeight:31}});
titles.push({text:'(b)', left:375, top:10, padding:[1,2,1,2], backgroundColor:'#000', borderColor:'#fff', borderWidth:3,
  textStyle:{fontSize:26, fontWeight:'bold', color:'#fff', fontFamily:FONT, lineHeight:31}});

const chart = echarts.init(document.getElementById('c'), null, {renderer:'canvas'});
chart.setOption({
  animation:false,
  backgroundColor:'#fff',
  title:titles,
  grid:grids, xAxis:xAxes, yAxis:yAxes, series:series,
  graphic:[{type:'text', x:16, y:473, rotation:Math.PI/2, z:10,
    style:{text:'Binding Energy (eV)', align:'center', verticalAlign:'middle', font:'bold 24px ' + FONT, fill:'#000'}}]
});
</script></body></html>
